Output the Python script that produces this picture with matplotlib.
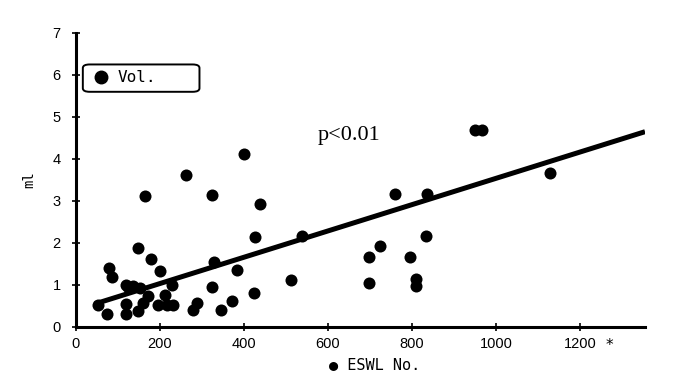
import matplotlib
matplotlib.use("Agg")
import matplotlib.pyplot as plt
from matplotlib.lines import Line2D
from matplotlib.patches import FancyBboxPatch

# data
eswl_no = [53, 73, 79, 85, 119, 125, 136, 119, 119, 147, 147, 164, 178, 172, 160, 152,
           200, 196, 212, 216, 232, 228, 263, 279, 287, 323, 323, 329, 345, 371, 384,
           426, 437, 425, 511, 537, 401, 950, 966, 760, 835, 833, 724, 698, 795, 698,
           810, 810, 1129]
vol_ml = [0.53, 0.31, 1.41, 1.19, 1.0, 0.95, 0.97, 0.55, 0.31, 0.37, 1.89, 3.12, 1.63,
          0.73, 0.57, 0.93, 1.33, 0.53, 0.77, 0.53, 0.53, 1.0, 3.62, 0.41, 0.57, 3.14,
          0.95, 1.54, 0.41, 0.63, 1.35, 2.14, 2.93, 0.82, 1.13, 2.17, 4.12, 4.68, 4.68,
          3.17, 3.17, 2.17, 1.94, 1.67, 1.67, 1.05, 1.14, 0.97, 3.67]
fit_x = [45, 1355]
fit_y = [0.55, 4.65]
x_ticks = [0, 200, 400, 600, 800, 1000, 1200]
y_ticks = [0, 1, 2, 3, 4, 5, 6, 7]

fig = plt.figure(figsize=(6.75, 3.78), dpi=100)
ax = fig.add_axes([76/675, 1-327/378, (645-76)/675, (327-33)/378])

ax.scatter(eswl_no, vol_ml, s=75, color='black', zorder=3, linewidths=0)
ax.plot(fit_x, fit_y, color='black', lw=3.6, solid_capstyle='butt', zorder=2)

ax.set_xlim(0, 1355)
ax.set_ylim(0, 7)
ax.spines['top'].set_visible(False)
ax.spines['right'].set_visible(False)
ax.spines['left'].set_linewidth(2.2)
ax.spines['bottom'].set_linewidth(2.2)

tickfont = dict(family='Liberation Sans', size=10.5)
ax.set_xticks(x_ticks)
ax.set_yticks(y_ticks)
ax.set_xticklabels([str(v) for v in x_ticks], **tickfont)
ax.set_yticklabels([str(v) for v in y_ticks], **tickfont)
ax.tick_params(axis='x', direction='inout', length=6, width=1.2, pad=4)
ax.tick_params(axis='y', direction='inout', length=6, width=1.2, pad=8)

ax.text(1271, -0.43, '*', fontsize=11, ha='center', va='center', family='DejaVu Sans')

ax.set_ylabel('ml', family='DejaVu Sans Mono', fontsize=10, labelpad=12)
ax.set_xlabel('● ESWL No.', family='DejaVu Sans Mono', fontsize=11)
ax.xaxis.set_label_coords(0.525, -0.105)

ax.text(650, 4.57, 'p<0.01', family='Liberation Serif', fontsize=16, ha='center', va='center')

# legend box
box = FancyBboxPatch((0.012, 0.80), 0.205, 0.093, transform=ax.transAxes,
                     boxstyle='round,pad=0.0,rounding_size=0.012',
                     facecolor='white', edgecolor='black', linewidth=1.4, zorder=4,
                     clip_on=False)
ax.add_patch(box)
handle = Line2D([], [], marker='o', color='black', linestyle='none', markersize=9)
leg = ax.legend([handle], ['Vol.'], loc='center left', bbox_to_anchor=(0.005, 0.847),
                frameon=False, handletextpad=0.4, borderpad=0.3,
                prop={'family': 'DejaVu Sans Mono', 'size': 11.5}, handlelength=1.2)
leg.set_zorder(5)

fig.savefig('out.png', dpi=100)
